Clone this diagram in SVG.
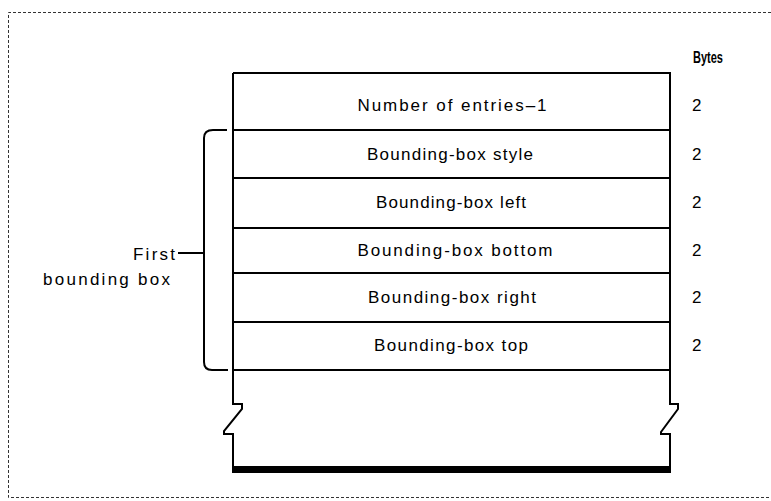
<svg xmlns="http://www.w3.org/2000/svg" width="771" height="501" viewBox="0 0 771 501">
<style>
.ln{fill:none;stroke:#000;stroke-width:2}
.t{font-family:"Liberation Sans",Arial,sans-serif;font-size:17px;fill:#000}
.c{text-anchor:middle}
.b{font-weight:bold;font-size:16px}
.frame{fill:none;stroke:#333;stroke-width:1;stroke-dasharray:3 2}
</style>
<rect width="771" height="501" fill="#fff"/>
<path class="frame" d="M771 12.5H8.5V497.5H771"/>
<g id="header">
<text class="t b" x="693" y="63" textLength="30" lengthAdjust="spacingAndGlyphs">Bytes</text>
</g>
<g id="frame-box">
<path class="ln" d="M233 73H670V404H678V409L661 432V434H670V470"/>
<path class="ln" d="M233 73V404H242V409L224 431V434H233V470"/>
<rect x="232" y="466" width="439" height="7" fill="#000"/>
</g>
<g id="row1">
<line class="ln" x1="233" y1="130" x2="670" y2="130"/>
<text class="t c" x="452" y="111" textLength="189">Number of entries–1</text>
<text class="t" x="692" y="111">2</text>
</g>
<g id="row2">
<line class="ln" x1="233" y1="178" x2="670" y2="178"/>
<text class="t c" x="450" y="160" textLength="166">Bounding-box style</text>
<text class="t" x="692" y="160">2</text>
</g>
<g id="row3">
<line class="ln" x1="233" y1="228" x2="670" y2="228"/>
<text class="t c" x="451" y="208" textLength="150">Bounding-box left</text>
<text class="t" x="692" y="208">2</text>
</g>
<g id="row4">
<line class="ln" x1="233" y1="273" x2="670" y2="273"/>
<text class="t c" x="455" y="256" textLength="195">Bounding-box bottom</text>
<text class="t" x="692" y="256">2</text>
</g>
<g id="row5">
<line class="ln" x1="233" y1="322" x2="670" y2="322"/>
<text class="t c" x="452" y="303" textLength="168">Bounding-box right</text>
<text class="t" x="692" y="303">2</text>
</g>
<g id="row6">
<line class="ln" x1="233" y1="370" x2="670" y2="370"/>
<text class="t c" x="451" y="351" textLength="154">Bounding-box top</text>
<text class="t" x="692" y="351">2</text>
</g>
<g id="bracket">
<path class="ln" d="M227 130H213Q204 130 204 138V362Q204 370 212 370H228"/>
<line class="ln" x1="178" y1="253" x2="204" y2="253"/>
<text class="t" x="133" y="260" textLength="42">First</text>
<text class="t" x="43" y="285" textLength="127">bounding box</text>
</g>
</svg>
